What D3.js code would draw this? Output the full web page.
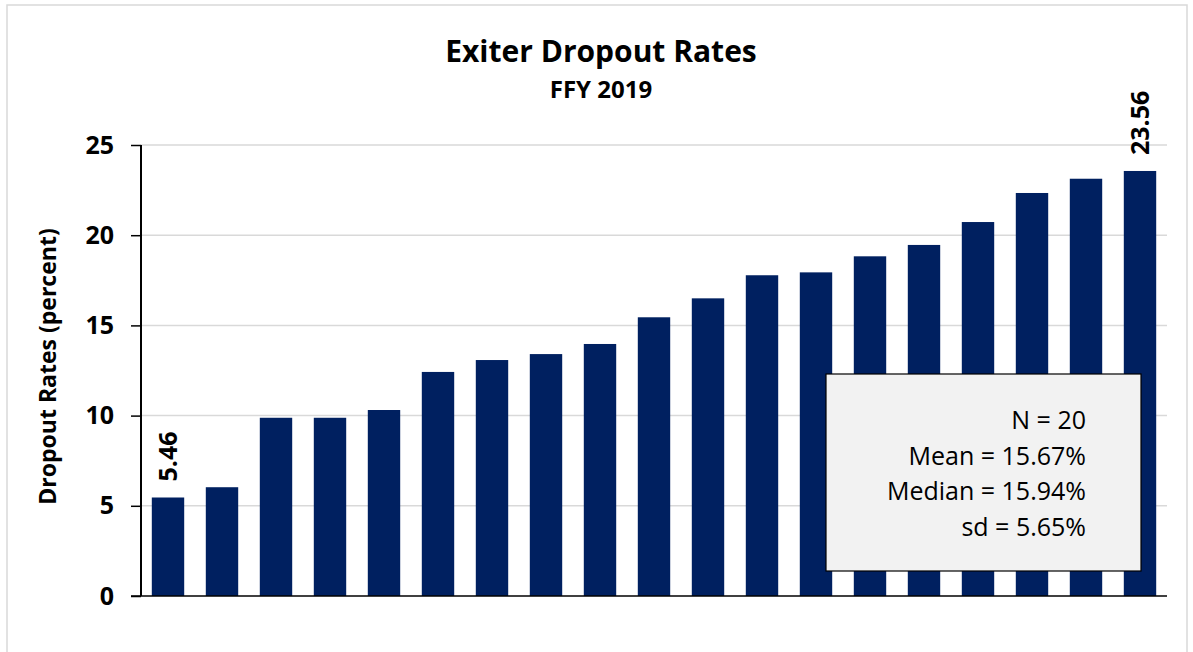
<!DOCTYPE html>
<html>
<head>
<meta charset="utf-8">
<script src="https://cdn.jsdelivr.net/npm/d3@7"></script>
<style>
  body { margin: 0; background: #fff; }
  text { font-family: "Open Sans", "Noto Sans", sans-serif; }
</style>
</head>
<body>
<div class="chart"></div>
<script>
(function() {
    // one bar per state, sorted low to high
    var rates = [5.46, 6.03, 9.88, 9.88, 10.31, 12.42, 13.08, 13.41, 13.97, 15.45,
                 16.50, 17.78, 17.94, 18.83, 19.46, 20.73, 22.34, 23.13, 23.56];
    var yTicks = [0, 5, 10, 15, 20, 25];
    var labelled = [0, rates.length - 1];   // only the min and max get a value label
    var stats = ["N = 20", "Mean = 15.67%", "Median = 15.94%", "sd = 5.65%"];

    var width = 1193,
        height = 652;
    var margin = {top: 145, right: 26, bottom: 56, left: 141};
    var innerW = width - margin.left - margin.right,
        innerH = height - margin.top - margin.bottom;

    var barColor = "#002060";

    var svg = d3.select(".chart").append("svg")
        .attr("width", width)
        .attr("height", height);

    // chart border
    svg.append("rect")
        .attr("x", 7).attr("y", 5)
        .attr("width", 1180).attr("height", 660)
        .attr("fill", "none")
        .attr("stroke", "#d9d9d9")
        .attr("stroke-width", 1.5);

    var x = d3.scaleBand()
        .domain(d3.range(rates.length))
        .range([0, innerW])
        .paddingInner(0.4)
        .paddingOuter(0.2);

    var y = d3.scaleLinear()
        .domain([0, 25])
        .range([innerH, 0]);

    var g = svg.append("g")
        .attr("transform", "translate(" + margin.left + "," + margin.top + ")");

    // gridlines
    g.append("g")
        .selectAll("line")
        .data(yTicks.filter(function(d) { return d > 0; }))
        .enter().append("line")
        .attr("x1", 0).attr("x2", innerW)
        .attr("y1", function(d) { return y(d); })
        .attr("y2", function(d) { return y(d); })
        .attr("stroke", "#d9d9d9")
        .attr("stroke-width", 1.5);

    // bars
    g.selectAll("rect.bar")
        .data(rates)
        .enter().append("rect")
        .attr("class", "bar")
        .attr("x", function(d, i) { return x(i); })
        .attr("y", function(d) { return y(d); })
        .attr("width", x.bandwidth())
        .attr("height", function(d) { return innerH - y(d); })
        .attr("fill", barColor);

    // value labels, rotated
    g.selectAll("text.val")
        .data(labelled)
        .enter().append("text")
        .attr("class", "val")
        .attr("transform", function(i) {
            return "translate(" + (x(i) + x.bandwidth() / 2 + 9) + "," + (y(rates[i]) - 16) + ") rotate(-90)";
        })
        .style("font-size", "25px")
        .style("font-weight", "bold")
        .text(function(i) { return rates[i].toFixed(2); });

    // y axis
    var yAxis = d3.axisLeft(y)
        .tickValues(yTicks)
        .tickSize(10)
        .tickPadding(17);

    var ax = g.append("g").call(yAxis);
    ax.select(".domain").attr("stroke", "#000").attr("stroke-width", 2)
        .attr("d", "M0,0V" + innerH);
    ax.selectAll(".tick line").attr("stroke", "#000").attr("stroke-width", 1.5);
    ax.selectAll(".tick text")
        .style("font-size", "25px")
        .style("font-weight", "bold")
        .attr("fill", "#000")
        .attr("font-family", null);

    // x axis baseline
    g.append("line")
        .attr("x1", -10).attr("x2", innerW)
        .attr("y1", innerH).attr("y2", innerH)
        .attr("stroke", "#000")
        .attr("stroke-width", 1.5);

    // titles
    svg.append("text")
        .attr("x", 601).attr("y", 62)
        .attr("text-anchor", "middle")
        .style("font-size", "30px")
        .style("font-weight", "bold")
        .text("Exiter Dropout Rates");

    svg.append("text")
        .attr("x", 601).attr("y", 98)
        .attr("text-anchor", "middle")
        .style("font-size", "24px")
        .style("font-weight", "bold")
        .text("FFY 2019");

    svg.append("text")
        .attr("transform", "translate(56," + (margin.top + innerH / 2 - 4) + ") rotate(-90)")
        .attr("text-anchor", "middle")
        .style("font-size", "23px")
        .style("font-weight", "bold")
        .text("Dropout Rates (percent)");

    // stats box
    var box = svg.append("g").attr("transform", "translate(826,374)");
    box.append("rect")
        .attr("width", 315).attr("height", 197)
        .attr("fill", "#f2f2f2")
        .attr("stroke", "#000")
        .attr("stroke-width", 1.2);

    box.selectAll("text")
        .data(stats)
        .enter().append("text")
        .attr("x", 260)
        .attr("y", function(d, i) { return 55 + i * 35.5; })
        .attr("text-anchor", "end")
        .style("font-size", "25px")
        .text(function(d) { return d; });
})();
</script>
</body>
</html>
